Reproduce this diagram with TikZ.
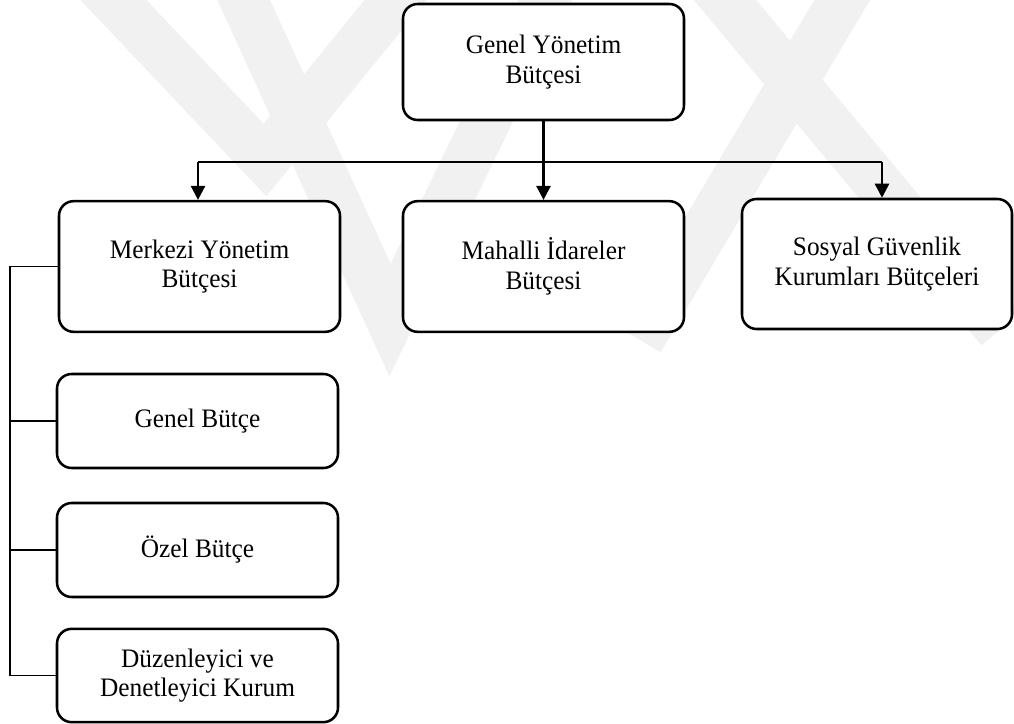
\documentclass[tikz,border=0pt]{standalone}
\usepackage{fontspec}
\setmainfont[FakeStretch=0.95]{Liberation Serif}
\usetikzlibrary{arrows.meta}
\definecolor{markgray}{HTML}{F1F1F1}
\tikzset{
  budget/.style={draw, line width=1.9pt, rounded corners=11pt, align=center,
    inner sep=0pt, font=\fontsize{20}{22}\selectfont, fill=white},
  wide/.style={minimum width=210.75pt},
  flow/.style={line width=1.9pt, -{Triangle[width=10.5pt,length=10.5pt]}},
  bus/.style={line width=1.9pt},
  branch/.style={line width=1pt},
  band/.style={markgray, line width=36pt}
}
\begin{document}
\begin{tikzpicture}[x=0.75pt, y=-0.75pt]
\useasboundingbox (0,0) rectangle (1014,724);
% faint background emblem
\begin{scope}
  \clip (0,0) rectangle (1014,724);
  \draw[band] (85,-30) -- (265,160) -- (420,-30);
  \draw[band] (230,-30) -- (390,320) -- (560,-30);
  \draw[band] (860,-30) -- (640,340);
  \draw[band] (700,-30) -- (1000,330);
\end{scope}
% boxes
\node[budget, wide, minimum height=87pt] (gyb) at (543.5,62) {Genel Yönetim\\Bütçesi};
\node[budget, wide, minimum height=98pt] (myb) at (199.5,266.5) {Merkezi Yönetim\\Bütçesi};
\node[budget, wide, minimum height=98pt] (mib) at (543.5,266.5) {Mahalli İdareler\\Bütçesi};
\node[budget, minimum width=202.5pt, minimum height=97.5pt] (sgk) at (877,264) {Sosyal Güvenlik\\Kurumları Bütçeleri};
\node[budget, wide, minimum height=70.5pt] (gb) at (197.5,421) {Genel Bütçe};
\node[budget, wide, minimum height=70.5pt] (ob) at (197.5,550) {Özel Bütçe};
\node[budget, wide, minimum height=70pt] (dk) at (197.5,675.5) {Düzenleyici ve\\Denetleyici Kurum};
% top-level distribution
\coordinate (split) at (543.5,162);
\coordinate (busL) at (198,162);
\coordinate (busR) at (882,162);
\draw[bus] (gyb.south) -- (split);
\draw[bus] (busL) -- (busR);
\draw[flow] (busL) -- (busL |- myb.north);
\draw[flow] (split) -- (mib.north);
\draw[flow] (busR) -- (busR |- sgk.north);
% central government sub-budgets
\coordinate (rail) at (10,267);
\draw[branch] (myb.west) -- (rail |- myb.west) -- (rail |- dk.west) -- (dk.west);
\draw[branch] (rail |- gb.west) -- (gb.west);
\draw[branch] (rail |- ob.west) -- (ob.west);
\end{tikzpicture}
\end{document}
